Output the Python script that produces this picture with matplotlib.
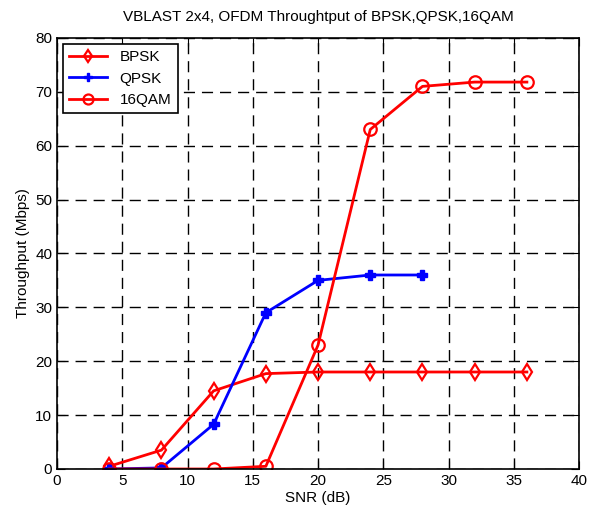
import matplotlib.pyplot as plt

# Données
snr_bpsk = [4, 8, 12, 16, 20, 24, 28, 32, 36]
thr_bpsk = [0.5, 3.5, 14.5, 17.7, 18, 18, 18, 18, 18]

snr_qpsk = [4, 8, 12, 16, 20, 24, 28]
thr_qpsk = [0, 0.2, 8.3, 29, 35, 36, 36]

snr_16qam = [4, 8, 12, 16, 20, 24, 28, 32, 36]
thr_16qam = [0, 0, 0, 0.5, 23, 63, 71, 71.8, 71.8]

plt.rcParams['font.family'] = ['Liberation Sans', 'DejaVu Sans']

fig = plt.figure(figsize=(5.97, 5.12), dpi=100)
ax = fig.add_axes([0.0955, 0.084, 0.8745, 0.842])

ax.plot(snr_bpsk, thr_bpsk, color='red', marker='d', markersize=8, markerfacecolor='none',
        markeredgewidth=1.6, linewidth=2, label='BPSK')
ax.plot(snr_qpsk, thr_qpsk, color='blue', marker='P', markersize=7.5,
        linewidth=2, label='QPSK')
ax.plot(snr_16qam, thr_16qam, color='red', marker='o', markersize=9, markerfacecolor='none',
        markeredgewidth=1.6, linewidth=2, label='16QAM')

ax.set_xlim(0, 40)
ax.set_ylim(0, 80)
ax.set_xticks(range(0, 41, 5))
ax.set_yticks(range(0, 81, 10))
ax.grid(True, color='black', linestyle=(0, (8, 5)), linewidth=1)
ax.tick_params(direction='in', top=True, right=True, labelsize=11, length=6)
for s in ax.spines.values():
    s.set_linewidth(1.2)

ax.set_title("VBLAST 2x4, OFDM Throughtput of BPSK,QPSK,16QAM", fontsize=11, pad=12)
ax.set_xlabel("SNR (dB)", fontsize=11, labelpad=2)
ax.set_ylabel("Throughput (Mbps)", fontsize=11)

leg = ax.legend(loc='upper left', fontsize=11, fancybox=False, edgecolor='black',
                handlelength=2.5, borderaxespad=0.4, framealpha=1, markerscale=0.8)
leg.get_frame().set_linewidth(1.2)

fig.savefig('out.png', dpi=100)
